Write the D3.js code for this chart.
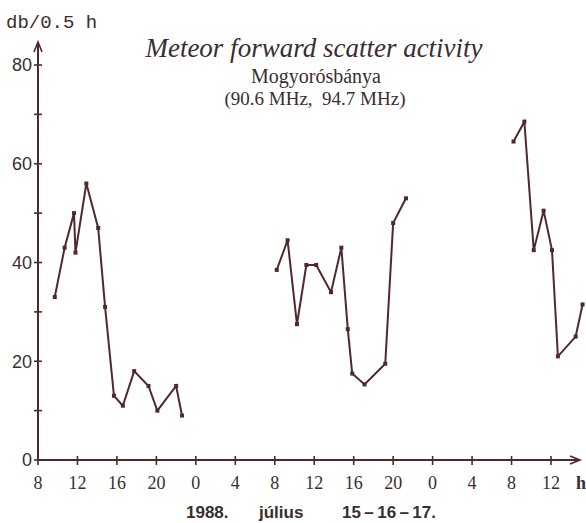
<!DOCTYPE html>
<html>
<head>
<meta charset="utf-8">
<script src="https://cdn.jsdelivr.net/npm/d3@7"></script>
<style>
  html, body { margin: 0; padding: 0; background: #ffffff; }
  svg { display: block; }
</style>
</head>
<body>
<svg id="chart" width="586" height="523"></svg>
<script>
// ---- data (hours counted from 15 July 00:00, values in db / 0.5 h) ----
const series1Hours  = [9.7, 10.7, 11.65, 11.8, 12.9, 14.1, 14.8, 15.7, 16.6, 17.75, 19.2, 20.1, 22.0, 22.6];
const series1Values = [33, 43, 50, 42, 56, 47, 31, 13, 11, 18, 15, 10, 15, 9];
const series2Hours  = [32.2, 33.3, 34.25, 35.2, 36.2, 37.7, 38.75, 39.4, 39.85, 41.1, 43.2, 44.0, 45.3];
const series2Values = [38.5, 44.5, 27.5, 39.5, 39.5, 34, 43, 26.5, 17.5, 15.3, 19.5, 48, 53];
const series3Hours  = [56.2, 57.3, 58.25, 59.25, 60.1, 60.7, 62.5, 63.2];
const series3Values = [64.5, 68.5, 42.5, 50.5, 42.5, 21, 25, 31.5];

const xTickHours  = [8, 12, 16, 20, 24, 28, 32, 36, 40, 44, 48, 52, 56, 60];
const xTickLabels = ["8", "12", "16", "20", "0", "4", "8", "12", "16", "20", "0", "4", "8", "12"];
const yMinorTicks = [0, 10, 20, 30, 40, 50, 60, 70, 80];
const yTickLabels = [0, 20, 40, 60, 80];

const titleText = "Meteor forward scatter activity";
const subtitle1 = "Mogyorósbánya";
const subtitle2 = "(90.6 MHz,  94.7 MHz)";
const yUnitText = "db/0.5 h";
const dateParts = ["1988.", "július", "15\u2009\u2013\u200916\u2009\u2013\u200917."];

// ---- drawing ----
const ink = "#4f2a2a";
const textInk = "#3a2e2e";
const svg = d3.select("#chart");

const x = d3.scaleLinear().domain([8, 60]).range([38, 551]);
const y = d3.scaleLinear().domain([0, 80]).range([460, 65]);

// axes lines
const axisG = svg.append("g").attr("stroke", ink).attr("stroke-width", 2).attr("fill", "none");
axisG.append("line").attr("x1", x(8)).attr("x2", x(8)).attr("y1", y(0)).attr("y2", 42);
axisG.append("path").attr("d", `M${x(8) - 4},${52} L${x(8)},${42} L${x(8) + 4},${52}`).attr("stroke-width", 1.6);
axisG.append("line").attr("x1", x(8)).attr("x2", 580).attr("y1", y(0)).attr("y2", y(0));
axisG.append("path").attr("d", `M${570},${y(0) - 4} L${580},${y(0)} L${570},${y(0) + 4}`).attr("stroke-width", 1.6);

// y ticks
axisG.selectAll("line.yt").data(yMinorTicks).enter().append("line")
  .attr("class", "yt")
  .attr("x1", x(8) - 4).attr("x2", x(8) + 4)
  .attr("y1", d => y(d)).attr("y2", d => y(d))
  .attr("stroke-width", 1.6);

svg.selectAll("text.yl").data(yTickLabels).enter().append("text")
  .attr("class", "yl")
  .attr("x", x(8) - 6).attr("y", d => y(d))
  .attr("dy", "0.36em")
  .attr("text-anchor", "end")
  .attr("font-family", "Liberation Sans, Arial, sans-serif")
  .attr("font-size", 18)
  .attr("fill", textInk)
  .text(d => d);

// x ticks
axisG.selectAll("line.xt").data(xTickHours).enter().append("line")
  .attr("class", "xt")
  .attr("x1", d => x(d)).attr("x2", d => x(d))
  .attr("y1", y(0) - 4).attr("y2", y(0) + 5)
  .attr("stroke-width", 1.6);

svg.selectAll("text.xl").data(xTickHours).enter().append("text")
  .attr("class", "xl")
  .attr("x", d => x(d)).attr("y", 489)
  .attr("text-anchor", "middle")
  .attr("font-family", "Liberation Serif, Times New Roman, serif")
  .attr("font-size", 18)
  .attr("fill", textInk)
  .text((d, i) => xTickLabels[i]);

svg.append("text")
  .attr("x", 581).attr("y", 489)
  .attr("text-anchor", "middle")
  .attr("font-family", "Liberation Serif, Times New Roman, serif")
  .attr("font-size", 18)
  .attr("font-weight", "bold")
  .attr("fill", textInk)
  .text("h");

// series
const line = d3.line().x(d => x(d[0])).y(d => y(d[1]));
const allSeries = [
  d3.zip(series1Hours, series1Values),
  d3.zip(series2Hours, series2Values),
  d3.zip(series3Hours, series3Values)
];
allSeries.forEach(s => {
  svg.append("path").datum(s)
    .attr("d", line)
    .attr("fill", "none")
    .attr("stroke", ink)
    .attr("stroke-width", 2)
    .attr("stroke-linejoin", "miter");
  svg.selectAll(null).data(s).enter().append("rect")
    .attr("x", d => x(d[0]) - 2).attr("y", d => y(d[1]) - 2)
    .attr("width", 4).attr("height", 4)
    .attr("fill", ink);
});

// texts
svg.append("text")
  .attr("x", 6).attr("y", 28)
  .attr("font-family", "Liberation Mono, Courier New, monospace")
  .attr("font-size", 19)
  .attr("fill", textInk)
  .attr("xml:space", "preserve")
  .style("white-space", "pre")
  .text(yUnitText);

svg.append("text")
  .attr("x", 314).attr("y", 57)
  .attr("text-anchor", "middle")
  .attr("font-family", "Liberation Serif, Times New Roman, serif")
  .attr("font-style", "italic")
  .attr("font-size", 27)
  .attr("fill", textInk)
  .text(titleText);

svg.append("text")
  .attr("x", 316).attr("y", 83)
  .attr("text-anchor", "middle")
  .attr("font-family", "Liberation Serif, Times New Roman, serif")
  .attr("font-size", 20)
  .attr("fill", textInk)
  .text(subtitle1);

svg.append("text")
  .attr("x", 315).attr("y", 105)
  .attr("text-anchor", "middle")
  .attr("font-family", "Liberation Serif, Times New Roman, serif")
  .attr("font-size", 19)
  .attr("fill", textInk)
  .attr("xml:space", "preserve")
  .style("white-space", "pre")
  .text(subtitle2);

const dateX = [186, 259, 342];
svg.selectAll("text.date").data(dateParts).enter().append("text")
  .attr("class", "date")
  .attr("x", (d, i) => dateX[i]).attr("y", 518)
  .attr("font-family", "Liberation Sans, Arial, sans-serif")
  .attr("font-weight", "bold")
  .attr("font-size", 17)
  .attr("fill", textInk)
  .text(d => d);
</script>
</body>
</html>
